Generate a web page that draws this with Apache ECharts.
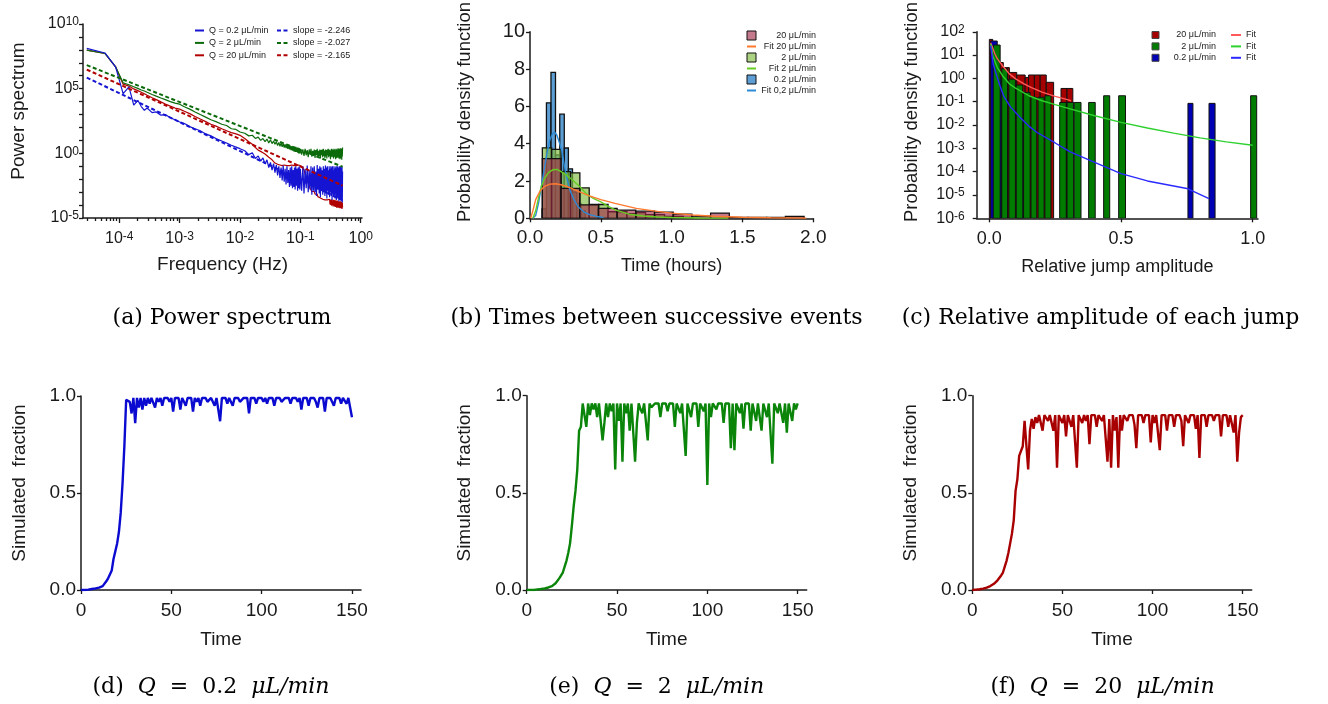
<!DOCTYPE html>
<html><head><meta charset="utf-8">
<script src="https://cdn.jsdelivr.net/npm/echarts@6/dist/echarts.min.js"></script>
<style>html,body{margin:0;padding:0;background:#fff}#c{width:1328px;height:704px}</style>
</head><body><div id="c"></div>
<script>
// ---------- (a) Power spectrum ----------
const psdFreq = [2.9e-5,5.8e-5,8.7e-5,1.16e-4,1.45e-4,1.74e-4,2.03e-4,2.32e-4,2.61e-4,2.9e-4,3.5e-4,4.1e-4,4.9e-4,5.8e-4,7e-4,8.4e-4,1e-3,1.2e-3,1.5e-3,1.8e-3,2.2e-3,2.7e-3,3.3e-3,4e-3,5e-3,6e-3,7.2e-3,8.6e-3,1e-2,
 0.012,0.014,0.016,0.018,
 0.020,0.022,0.024,0.026,0.028,0.030,0.032,0.034,0.036,0.038,0.040,0.042,0.044,0.046,0.048,0.050,0.052,0.054,0.056,0.058,0.060,0.062,0.064,0.066,0.068,0.070,0.072,0.074,0.076,0.078,0.080,0.082,0.084,0.086,0.088,0.090,0.092,0.094,0.096,0.098,0.100,
 0.105,0.110,0.115,0.120,0.125,0.130,0.135,0.140,0.145,0.150,0.155,0.160,0.165,0.170,0.175,0.180,0.185,0.190,0.195,0.200,
 0.205,0.210,0.215,0.220,0.225,0.230,0.235,0.240,0.245,0.250,0.255,0.260,0.265,0.270,0.275,0.280,0.285,0.290,0.295,0.300,
 0.305,0.310,0.315,0.320,0.325,0.330,0.335,0.340,0.345,0.350,0.355,0.360,0.365,0.370,0.375,0.380,0.385,0.390,0.395,0.400,
 0.405,0.410,0.415,0.420,0.425,0.430,0.435,0.440,0.445,0.450,0.455,0.460,0.465,0.470,0.475,0.480,0.485,0.490,0.495,0.500];
// log10 of the power
const psdLog10Blue = [8.11,7.76,6.69,4.62,5.14,3.72,4.1,3.62,3.33,3.5,3.15,3.2,2.95,3.0,2.75,2.6,2.42,2.3,2.05,1.9,1.75,1.5,1.35,1.15,0.95,0.8,0.62,0.48,0.36,
 0.2,-0.1,0.05,-0.4,
 -0.2,-0.6,-0.35,-0.8,-0.5,-1.1,-0.7,-1.3,-0.8,-1.5,
 -0.9,-1.7,-1.0,-1.9,-1.1,-2.1,-0.95,-2.2,-1.2,-2.4,
 -1.0,-2.3,-1.3,-2.6,-1.1,-2.5,-1.0,-2.7,-1.3,-2.6,
 -1.1,-2.8,-1.0,-2.5,-1.2,-2.9,-1.1,-2.7,-1.0,-2.8,
 -1.2,
 -2.9,-1.0,-3.1,-1.2,-2.7,-0.95,-3.0,-1.3,-2.8,-1.0,
 -3.2,-1.1,-2.9,-1.0,-3.0,-1.4,-3.3,-0.9,-2.8,-1.2,
 -3.1,-1.0,-3.4,-1.1,-2.9,-1.3,-3.2,-1.0,-3.0,-1.2,
 -3.3,-0.95,-3.1,-1.1,-3.5,-1.0,-2.9,-1.3,-3.2,-1.0,
 -3.4,-1.2,-3.0,-1.0,-3.3,-1.1,-3.6,-1.0,-3.1,-1.3,
 -3.4,-1.0,-3.2,-1.2,-3.5,-1.1,-3.0,-1.0,-3.6,-1.2,
 -3.3,-1.0,-3.5,-1.1,-3.2,-1.3,-3.7,-1.0,-3.4,-1.1,
 -3.6,-1.0,-3.3,-1.2,-3.7,-1.1,-3.5,-1.0,-3.8,-1.4];
const psdLog10Green = [7.98,7.72,6.69,5.45,5.3,5.15,5.02,4.9,4.82,4.72,4.55,4.42,4.28,4.15,4.0,3.88,3.8,3.6,3.4,3.2,3.0,2.8,2.6,2.45,2.25,2.15,1.9,1.85,1.65,
 1.55,1.35,1.4,1.15,
 1.25,1.0,1.15,0.9,1.1,0.8,1.05,0.75,0.95,0.7,
 0.9,0.6,0.85,0.55,0.8,0.5,0.75,0.45,0.7,0.4,
 0.65,0.35,0.65,0.3,0.6,0.25,0.55,0.2,0.55,0.15,
 0.5,0.1,0.5,0.1,0.45,0.05,0.45,0.0,0.4,0.0,
 0.35,
 -0.1,0.3,-0.2,0.35,-0.15,0.25,-0.3,0.3,-0.1,0.35,
 -0.25,0.2,-0.2,0.3,-0.35,0.25,-0.15,0.35,-0.3,0.2,
 -0.2,0.3,-0.4,0.25,-0.15,0.3,-0.3,0.35,-0.2,0.2,
 -0.35,0.3,-0.25,0.25,-0.4,0.3,-0.15,0.35,-0.3,0.25,
 -0.2,0.3,-0.45,0.2,-0.25,0.35,-0.3,0.3,-0.2,0.25,
 -0.4,0.35,-0.25,0.3,-0.3,0.2,-0.45,0.35,-0.2,0.3,
 -0.35,0.25,-0.3,0.4,-0.25,0.3,-0.4,0.35,-0.2,0.3,
 -0.45,0.4,-0.3,0.35,-0.35,0.3,-0.5,0.4,-0.25,0.45];
const psdLog10Red = [7.98,7.72,6.69,5.35,5.2,4.98,4.85,4.72,4.6,4.49,4.3,4.15,3.98,3.82,3.65,3.5,3.42,3.25,3.05,2.85,2.65,2.45,2.25,2.1,1.9,1.75,1.6,1.5,1.39,
 1.15,0.9,0.7,0.45,
 0.25,0.15,0.05,-0.05,-0.15,-0.3,-0.4,-0.5,-0.65,-0.75,
 -0.8,-0.85,-0.8,-0.9,-0.85,-0.95,-0.85,-0.9,-0.95,-0.85,
 -0.95,-0.9,-0.85,-0.95,-0.9,-1.0,-0.9,-0.95,-0.85,-0.95,
 -0.9,-1.0,-0.9,-0.95,-0.9,-1.0,-0.95,-0.9,-1.0,-0.95,
 -1.0,
 -1.0,-1.1,-1.3,-1.6,-1.9,-2.1,-2.3,-2.5,-2.7,-2.8,
 -2.95,-2.85,-3.05,-2.95,-3.15,-3.05,-3.25,-3.15,-3.35,-3.25,
 -3.4,-3.3,-3.45,-3.35,-3.5,-3.4,-3.55,-3.45,-3.6,-3.5,
 -3.6,-3.5,-3.65,-3.55,-3.7,-3.6,-3.7,-3.6,-3.75,-3.65,
 -3.55,-3.95,-3.6,-4.0,-3.55,-4.05,-3.6,-4.0,-3.65,-4.1,
 -3.6,-4.05,-3.65,-4.1,-3.6,-4.15,-3.7,-4.1,-3.65,-4.2,
 -3.7,-4.15,-3.65,-4.2,-3.7,-4.1,-3.75,-4.2,-3.7,-4.25,
 -3.75,-4.2,-3.7,-4.25,-3.8,-4.2,-3.75,-4.3,-3.8,-4.2];
const slopeFreq = [2.9e-5, 0.5];
const slopeBlue = [7.2e5, 2.4e-4];
const slopeGreen = [6.6e6, 0.092];
const slopeRed = [3.0e6, 3.2e-3];

// ---------- (b) Times between successive events: [binStart, binEnd, density] ----------
const hist20 = [[0.087,0.219,3.2],[0.219,0.351,1.6],[0.351,0.483,0.72],[0.483,0.615,0.53],[0.615,0.747,0.44],[0.747,0.879,0.38],[0.879,1.011,0.33],[1.011,1.143,0.22],[1.143,1.275,0.12],[1.275,1.407,0.28],[1.407,1.539,0.05],[1.539,1.671,0.05],[1.671,1.803,0.05],[1.803,1.935,0.1]];
const hist2 = [[0.087,0.153,3.78],[0.153,0.219,3.70],[0.219,0.286,2.5],[0.286,0.352,2.44],[0.352,0.418,1.63],[0.418,0.485,0.75],[0.485,0.551,0.74],[0.551,0.617,0.35],[0.617,0.684,0.35],[0.684,0.750,0.25],[0.750,0.816,0.3],[0.816,0.883,0.2],[0.883,0.950,0.2],[0.950,1.016,0.1],[1.016,1.083,0.1],[1.083,1.150,0.05]];
const hist02 = [[0.085,0.116,0.5],[0.116,0.148,6.19],[0.148,0.180,7.82],[0.180,0.210,3.4],[0.210,0.242,5.58],[0.242,0.271,3.77],[0.271,0.300,2.65],[0.300,0.330,1.4],[0.330,0.360,0.8],[0.360,0.390,0.4]];
const fit20T = [0.005,0.02,0.04,0.07,0.1,0.14,0.18,0.22,0.28,0.35,0.42,0.5,0.6,0.75,0.9,1.0,1.15,1.3,1.5,1.7,1.95];
const fit20V = [0,0.4,1.0,1.45,1.7,1.83,1.85,1.8,1.65,1.42,1.2,1.0,0.8,0.53,0.37,0.28,0.18,0.11,0.06,0.03,0.01];
const fit2T = [0.02,0.04,0.06,0.08,0.1,0.13,0.16,0.19,0.22,0.26,0.3,0.35,0.4,0.45,0.5,0.55,0.6,0.7,0.8,0.9,1.0,1.2,1.4];
const fit2V = [0,0.4,1.1,1.7,2.1,2.45,2.6,2.62,2.5,2.3,2.05,1.7,1.3,1.05,0.88,0.65,0.45,0.22,0.12,0.07,0.04,0.02,0.01];
const fit02T = [0.02,0.04,0.06,0.08,0.1,0.12,0.14,0.16,0.175,0.19,0.21,0.225,0.25,0.28,0.31,0.34,0.38,0.42,0.47,0.52];
const fit02V = [0,0.15,0.8,1.7,2.6,3.5,4.2,4.55,4.6,4.45,4.0,3.6,2.5,1.55,1.0,0.62,0.35,0.2,0.1,0.05];

// ---------- (c) Relative amplitude of each jump: [binStart, binEnd, density] ----------
const jump20 = [[0.0,0.013,47],[0.013,0.038,12],[0.038,0.053,4.8],[0.053,0.076,2.9],[0.076,0.104,1.8],[0.104,0.136,1.4],[0.136,0.149,1.1],[0.149,0.171,1.4],[0.171,0.193,1.4],[0.193,0.216,1.4],[0.216,0.244,0.68],[0.272,0.295,0.37],[0.295,0.317,0.37]];
const jump2 = [[0.015,0.041,27],[0.047,0.069,2.6],[0.074,0.099,0.93],[0.102,0.127,0.52],[0.130,0.155,0.25],[0.158,0.180,0.155],[0.185,0.208,0.155],[0.211,0.234,0.18],[0.267,0.292,0.093],[0.295,0.320,0.093],[0.322,0.348,0.093],[0.377,0.402,0.093],[0.434,0.457,0.18],[0.491,0.517,0.18],[0.992,1.015,0.18]];
const jump02 = [[0.005,0.030,40],[0.030,0.047,1.0],[0.105,0.130,0.1],[0.754,0.773,0.085],[0.834,0.857,0.085]];
const jfit20X = [0.005,0.02,0.03,0.05,0.075,0.1,0.13,0.16,0.2,0.25,0.3,0.31];
const jfit20Y = [34,12,7,3.5,1.6,0.95,0.6,0.4,0.26,0.17,0.12,0.11];
const jfit2X = [0.005,0.015,0.03,0.05,0.075,0.1,0.15,0.2,0.25,0.3,0.4,0.5,0.6,0.7,0.8,0.9,1.0];
const jfit2Y = [30,8,3,1.3,0.6,0.38,0.18,0.11,0.075,0.052,0.025,0.013,0.0075,0.0045,0.0028,0.0019,0.00135];
const jfit02X = [0.005,0.015,0.028,0.04,0.054,0.08,0.117,0.15,0.18,0.25,0.307,0.4,0.5,0.6,0.75,0.834];
const jfit02Y = [25,4,1.3,0.5,0.18,0.06,0.021,0.009,0.0049,0.0017,0.0007,0.00025,8.3e-5,4e-5,1.9e-5,7e-6];

// ---------- (d)(e)(f) Simulated fraction ----------
const timeSteps = [0,1,2,3,4,5,6,7,8,9,10,11,12,13,14,15,16,17,18,19,20,21,22,23,24,25,26,27,28,29,30,31,32,33,34,35,36,37,38,39,40,41,42,43,44,45,46,47,48,49,50,51,52,53,54,55,56,57,58,59,60,61,62,63,64,65,66,67,68,69,70,71,72,73,74,75,76,77,78,79,80,81,82,83,84,85,86,87,88,89,90,91,92,93,94,95,96,97,98,99,100,101,102,103,104,105,106,107,108,109,110,111,112,113,114,115,116,117,118,119,120,121,122,123,124,125,126,127,128,129,130,131,132,133,134,135,136,137,138,139,140,141,142,143,144,145,146,147,148,149,150];
const fracQ02 = [0,0,0,0,0.002,0.003,0.005,0.006,0.008,0.01,
 0.012,0.015,0.02,0.03,0.045,0.06,0.08,0.1,0.16,0.2,
 0.24,0.3,0.4,0.55,0.74,0.98,
 0.99,0.97,0.91,0.99,0.86,0.99,0.94,0.99,0.93,0.99,
 0.95,0.99,0.96,0.99,0.98,0.94,0.99,0.97,0.99,0.95,
 0.99,0.98,0.99,0.97,0.99,0.92,0.99,0.98,0.99,0.93,
 0.99,0.97,0.95,0.99,0.98,0.99,0.92,0.99,0.97,0.99,
 0.95,0.99,0.98,0.99,0.97,0.96,0.99,0.98,0.95,0.99,
 0.98,0.87,0.99,0.98,0.99,0.96,0.99,0.98,0.95,0.99,
 0.98,0.99,0.97,0.96,0.99,0.98,0.99,0.91,0.99,0.98,
 0.99,0.96,0.99,0.98,0.99,0.97,0.99,0.96,0.99,0.98,
 0.99,0.95,0.99,0.98,0.99,0.97,0.96,0.99,0.98,0.99,
 0.96,0.99,0.98,0.99,0.97,0.99,0.93,0.99,0.98,0.99,
 0.95,0.99,0.98,0.99,0.97,0.94,0.99,0.98,0.99,0.92,
 0.99,0.98,0.99,0.97,0.95,0.99,0.98,0.99,0.96,0.99,
 0.98,0.96,0.99,0.99,0.89];
const fracQ2 = [0,0,0,0,0,0.002,0.003,0.004,0.005,0.006,
 0.008,0.01,0.013,0.016,0.02,0.025,0.035,0.045,0.06,0.05,
 0.09,0.12,0.15,0.19,0.24,0.33,0.43,0.51,0.62,0.82,0.84,0.96,
 0.96,0.84,0.96,0.90,0.96,0.93,0.96,0.89,0.96,0.95,
 0.77,0.86,0.96,0.89,0.96,0.92,0.96,0.62,0.96,0.87,
 0.96,0.66,0.96,0.91,0.96,0.82,0.96,0.95,0.66,0.86,
 0.96,0.93,0.91,0.96,0.95,0.77,0.96,0.94,0.93,0.96,
 0.95,0.96,0.89,0.96,0.95,0.96,0.92,0.96,0.95,0.96,
 0.84,0.96,0.95,0.91,0.96,0.95,0.69,0.96,0.95,0.89,
 0.96,0.95,0.96,0.84,0.96,0.95,0.92,0.96,0.54,0.96,
 0.89,0.96,0.95,0.93,0.96,0.95,0.96,0.86,0.96,0.95,
 0.96,0.73,0.96,0.72,0.96,0.95,0.91,0.96,0.83,0.96,
 0.95,0.96,0.82,0.96,0.95,0.87,0.96,0.95,0.82,0.96,
 0.95,0.89,0.96,0.95,0.65,0.96,0.95,0.91,0.96,0.95,
 0.86,0.96,0.81,0.96,0.95,0.87,0.96,0.93,0.96];
const fracQ20 = [0,0.001,0.002,0.003,0.004,0.005,0.007,0.009,0.012,0.015,
 0.02,0.026,0.032,0.04,0.05,0.06,0.075,0.09,0.12,0.15,
 0.19,0.24,0.29,0.36,0.51,0.57,0.69,0.69,0.74,0.87,0.87,0.62,
 0.82,0.88,0.83,0.89,0.86,0.90,0.89,0.82,0.90,0.89,
 0.87,0.90,0.89,0.82,0.90,0.63,0.90,0.89,0.86,0.90,
 0.79,0.90,0.89,0.84,0.90,0.89,0.63,0.90,0.89,0.86,
 0.90,0.87,0.90,0.75,0.90,0.89,0.90,0.84,0.90,0.89,
 0.87,0.90,0.89,0.66,0.88,0.63,0.90,0.82,0.89,0.63,
 0.90,0.82,0.90,0.89,0.87,0.90,0.89,0.90,0.85,0.73,
 0.90,0.89,0.90,0.86,0.90,0.89,0.90,0.76,0.90,0.86,
 0.90,0.89,0.72,0.90,0.89,0.90,0.82,0.90,0.89,0.90,
 0.84,0.90,0.89,0.90,0.87,0.74,0.90,0.89,0.86,0.90,
 0.89,0.90,0.83,0.90,0.68,0.90,0.89,0.90,0.84,0.90,
 0.89,0.90,0.87,0.90,0.89,0.90,0.79,0.90,0.89,0.90,
 0.84,0.90,0.89,0.81,0.90,0.66,0.81,0.89,0.90];

// ---------- tick positions ----------
const psdFreqLabels = [1e-4,1e-3,1e-2,1e-1,1];
const psdPowerLabels = [1e-5,1,1e5,1e10];
const jumpDensityLabels = [1e-6,1e-5,1e-4,1e-3,1e-2,1e-1,1,10,100];
const fracTimeLabels = [0,50,100,150];

// ================= build =================
const FONT = "'Liberation Sans', Arial, sans-serif";
const SERIF = "'DejaVu Serif', serif";
const AX = '#1a1a1a';

const powerDecades = [];
for (let e = -5; e <= 10; e++) powerDecades.push(Math.pow(10, e));
const freqMinor = [];
for (let e = -5; e <= -1; e++) for (let k = 2; k <= 9; k++) freqMinor.push(k * Math.pow(10, e));

const supFmt = v => '{b|10}{s|' + Math.round(Math.log10(v)) + '}';
const supRich = (bs, ss) => ({
  b: {fontSize: bs, fontFamily: FONT, color: AX, lineHeight: bs, verticalAlign: 'bottom'},
  s: {fontSize: ss, fontFamily: FONT, color: AX, lineHeight: ss, verticalAlign: 'top', padding: [0, 0, 8, 0]}
});
const fix1 = v => v.toFixed(1);

function axis(o) {
  return {
    gridIndex: o.g, type: o.type || 'value', min: o.min, max: o.max, interval: o.interval,
    position: o.position, logBase: 10,
    axisLine: {show: o.line !== false, onZero: false, lineStyle: {color: AX, width: 1.5}},
    axisTick: {show: true, inside: false, length: o.tickLen || 4, customValues: o.ticks, lineStyle: {color: AX, width: 1.3}},
    axisLabel: {show: o.noLabel ? false : true, customValues: o.labels, formatter: o.fmt, color: AX, fontFamily: FONT,
                fontSize: o.fs || 18, margin: o.margin == null ? 6 : o.margin, rich: o.rich,
                hideOverlap: false, showMinLabel: true, showMaxLabel: true},
    splitLine: {show: false},
    name: o.name, nameLocation: 'middle', nameGap: o.nameGap,
    nameTextStyle: {color: AX, fontFamily: FONT, fontSize: o.nameSize || 19, padding: o.namePad || 0}
  };
}

const xAxes = [
  axis({g:0, type:'log', min:2.512e-5, max:1.05, ticks:psdFreqLabels, labels:psdFreqLabels, fmt:supFmt, rich:supRich(16,12), tickLen:5, margin:13, name:'Frequency (Hz)', nameGap:37, nameSize:19}),
  axis({g:0, type:'log', min:2.512e-5, max:1.05, ticks:freqMinor, noLabel:true, tickLen:3, line:false, position:'bottom'}),
  axis({g:1, min:0, max:2, interval:0.5, fmt:fix1, fs:19, margin:10, tickLen:4, name:'Time (hours)', nameGap:39, nameSize:18}),
  axis({g:2, min:-0.048, max:1.02, ticks:[0,0.5,1], labels:[0,0.5,1], fmt:fix1, fs:18, margin:12, tickLen:4, name:'Relative jump amplitude', nameGap:40, nameSize:18}),
  axis({g:3, min:0, max:155, ticks:fracTimeLabels, labels:fracTimeLabels, fs:19, margin:11, tickLen:4, name:'Time', nameGap:40, nameSize:19}),
  axis({g:4, min:0, max:155, ticks:fracTimeLabels, labels:fracTimeLabels, fs:19, margin:11, tickLen:4, name:'Time', nameGap:40, nameSize:19}),
  axis({g:5, min:0, max:155, ticks:fracTimeLabels, labels:fracTimeLabels, fs:19, margin:11, tickLen:4, name:'Time', nameGap:40, nameSize:19})
];
const yAxes = [
  axis({g:0, type:'log', min:1e-5, max:1e10, ticks:powerDecades, labels:psdPowerLabels, fmt:supFmt, rich:supRich(16,12), tickLen:4, margin:4, name:'Power spectrum', nameGap:55, nameSize:19, namePad:[0,0,0,20]}),
  axis({g:1, min:0, max:10, interval:2, fs:20, margin:5, tickLen:4, name:'Probability density function', nameGap:56, nameSize:18.5, namePad:[0,0,0,26]}),
  axis({g:2, type:'log', min:1e-6, max:100, ticks:jumpDensityLabels, labels:jumpDensityLabels, fmt:supFmt, rich:supRich(16,12), tickLen:4, margin:12, name:'Probability density function', nameGap:55, nameSize:18.5, namePad:[0,0,0,26]}),
  axis({g:3, min:0, max:1, interval:0.5, fmt:fix1, fs:19, margin:5, tickLen:4, name:'Simulated  fraction', nameGap:52, nameSize:19, namePad:[0,0,0,20]}),
  axis({g:4, min:0, max:1, interval:0.5, fmt:fix1, fs:19, margin:5, tickLen:4, name:'Simulated  fraction', nameGap:52, nameSize:19, namePad:[0,0,0,20]}),
  axis({g:5, min:0, max:1, interval:0.5, fmt:fix1, fs:19, margin:5, tickLen:4, name:'Simulated  fraction', nameGap:52, nameSize:19, namePad:[0,0,0,20]})
];

const C = {
  psdBlue: '#1414d2', psdGreen: '#0b6b0b', psdRed: '#b00000',
  hB: 'rgba(48,132,200,0.78)', hG: 'rgba(132,190,70,0.68)', hR: 'rgba(160,40,70,0.62)',
  fB: '#2b8bd6', fG: '#66cc22', fR: '#ff7a2e',
  jR: '#a50000', jG: '#007c00', jB: '#0000b4',
  jfR: '#ff5a5a', jfG: '#2ed12e', jfB: '#2a2aff',
  dB: '#0a0ad0', dG: '#0a850a', dR: '#a80000'
};

function line(name, xi, yi, data, color, width, dashed, z) {
  return {name, type:'line', xAxisIndex:xi, yAxisIndex:yi, data, showSymbol:false, symbol:'none',
    clip:true, z: z || 2, itemStyle:{color},
    lineStyle:{color, width, type: dashed ? [4,2.5] : 'solid'}};
}
function hist(name, xi, yi, bins, fill, base, bw, z) {
  return {name, type:'custom', xAxisIndex:xi, yAxisIndex:yi, data:bins, clip:true, z: z || 2,
    encode:{x:[0,1], y:2}, itemStyle:{color: fill, borderColor:'#111', borderWidth:bw},
    renderItem: (params, api) => {
      const a = api.coord([api.value(0), api.value(2)]);
      const b = api.coord([api.value(1), base]);
      return {type:'rect', shape:{x:a[0], y:a[1], width:b[0]-a[0], height:b[1]-a[1]},
              style:{fill, stroke:'#111', lineWidth:bw}};
    }};
}
const pairs = (xs, ys) => xs.map((x, i) => [x, ys[i]]);
const pow10 = (xs, ls) => xs.map((x, i) => [x, Math.pow(10, ls[i])]);

const series = [
  // (a)
  line('Q = 20 μL/min', 0, 0, pow10(psdFreq, psdLog10Red), C.psdRed, 1.2, false, 2),
  line('Q = 2 μL/min', 0, 0, pow10(psdFreq, psdLog10Green), C.psdGreen, 1.2, false, 2),
  line('Q = 0.2 μL/min', 0, 0, pow10(psdFreq, psdLog10Blue), C.psdBlue, 1.2, false, 2),
  line('slope = -2.246', 0, 0, pairs(slopeFreq, slopeBlue), C.psdBlue, 2, true, 3),
  line('slope = -2.027', 0, 0, pairs(slopeFreq, slopeGreen), C.psdGreen, 2, true, 3),
  line('slope = -2.165', 0, 0, pairs(slopeFreq, slopeRed), C.psdRed, 2, true, 3),
  // (b)
  hist('0.2 μL/min', 2, 1, hist02, C.hB, 0, 1.3, 2),
  hist('2 μL/min', 2, 1, hist2, C.hG, 0, 1.3, 3),
  hist('20 μL/min', 2, 1, hist20, C.hR, 0, 1.3, 4),
  line('Fit 0,2 μL/min', 2, 1, pairs(fit02T, fit02V), C.fB, 1.4, false, 5),
  line('Fit 2 μL/min', 2, 1, pairs(fit2T, fit2V), C.fG, 1.4, false, 5),
  line('Fit 20 μL/min', 2, 1, pairs(fit20T, fit20V), C.fR, 1.4, false, 5),
  // (c)
  hist('c20', 3, 2, jump20, C.jR, 1e-6, 1, 2),
  hist('c02', 3, 2, jump02, C.jB, 1e-6, 1, 3),
  hist('c2', 3, 2, jump2, C.jG, 1e-6, 1, 4),
  line('cf20', 3, 2, pairs(jfit20X, jfit20Y), C.jfR, 1.4, false, 5),
  line('cf2', 3, 2, pairs(jfit2X, jfit2Y), C.jfG, 1.4, false, 5),
  line('cf02', 3, 2, pairs(jfit02X, jfit02Y), C.jfB, 1.4, false, 5),
  // (d)(e)(f)
  line('d', 4, 3, pairs(timeSteps, fracQ02), C.dB, 2.4, false, 2),
  line('e', 5, 4, pairs(timeSteps, fracQ2), C.dG, 2.4, false, 2),
  line('f', 6, 5, pairs(timeSteps, fracQ20), C.dR, 2.4, false, 2)
];

const lt = {fontFamily: FONT, fontSize: 9, color: '#222'};
const noMark = {opacity: 0};
const cNames = {c20:'20 μL/min', c2:'2 μL/min', c02:'0.2 μL/min'};
const legends = [
  {data:['Q = 0.2 μL/min','Q = 2 μL/min','Q = 20 μL/min'], orient:'vertical', left:194, top:26, padding:0,
   itemWidth:9, itemHeight:8, itemGap:3.4, textStyle:lt, selectedMode:false, itemStyle:noMark},
  {data:['slope = -2.246','slope = -2.027','slope = -2.165'], orient:'vertical', left:276, top:26, padding:0,
   itemWidth:11, itemHeight:8, itemGap:3.4, textStyle:lt, selectedMode:false, itemStyle:noMark},
  {data:[
     {name:'20 μL/min', icon:'rect', itemStyle:{color:C.hR, borderColor:'#111', borderWidth:1, opacity:1}},
     {name:'Fit 20 μL/min', itemStyle:noMark},
     {name:'2 μL/min', icon:'rect', itemStyle:{color:C.hG, borderColor:'#111', borderWidth:1, opacity:1}},
     {name:'Fit 2 μL/min', itemStyle:noMark},
     {name:'0.2 μL/min', icon:'rect', itemStyle:{color:C.hB, borderColor:'#111', borderWidth:1, opacity:1}},
     {name:'Fit 0,2 μL/min', itemStyle:noMark}],
   orient:'vertical', left:746, top:30.5, padding:0, itemWidth:9, itemHeight:9, itemGap:1.5, selectedMode:false,
   formatter: n => '{r|' + n + '}', textStyle:{rich:{r:{width:55, align:'right', fontFamily:FONT, fontSize:9, color:'#222'}}}},
  {data:[
     {name:'c20', icon:'rect', itemStyle:{color:C.jR, borderColor:'#444', borderWidth:1}},
     {name:'c2', icon:'rect', itemStyle:{color:C.jG, borderColor:'#444', borderWidth:1}},
     {name:'c02', icon:'rect', itemStyle:{color:C.jB, borderColor:'#444', borderWidth:1}}],
   orient:'vertical', left:1151.5, top:30.5, padding:0, itemWidth:7, itemHeight:7, itemGap:2.4, selectedMode:false,
   formatter: n => '{r|' + cNames[n] + '}', textStyle:{rich:{r:{width:52, align:'right', fontFamily:FONT, fontSize:9, color:'#222'}}}},
  {data:['cf20','cf2','cf02'], orient:'vertical', left:1230, top:30.5, padding:0, itemWidth:10, itemHeight:7, itemGap:2.4,
   selectedMode:false, formatter: () => 'Fit', textStyle:lt, itemStyle:noMark}
];

const capStyle = (text, x, y) => ({type:'text', x, y, silent:true, style:{text, fill:'#000', fontFamily:SERIF, fontSize:22,
  align:'center', verticalAlign:'middle', rich:{i:{fontStyle:'italic', fontFamily:SERIF, fontSize:22, fill:'#000'}}}});

const option = {
  animation: false,
  backgroundColor: '#fff',
  grid: [
    {left:83, top:24, width:279, height:194},
    {left:530, top:30, width:283.3, height:188.3},
    {left:976.7, top:30.7, width:281.3, height:187.6},
    {left:81, top:396, width:280, height:194},
    {left:526.7, top:395.7, width:280, height:194.3},
    {left:972.3, top:395.7, width:279.4, height:194.3}
  ],
  xAxis: xAxes,
  yAxis: yAxes,
  legend: legends,
  series,
  graphic: [
    capStyle('(a) Power spectrum', 222, 318),
    capStyle('(b) Times between successive events', 656.5, 318),
    capStyle('(c) Relative amplitude of each jump', 1100.5, 318),
    capStyle('(d)  {i|Q}  =  0.2  {i|μL/min}', 211, 687),
    capStyle('(e)  {i|Q}  =  2  {i|μL/min}', 656.7, 687),
    capStyle('(f)  {i|Q}  =  20  {i|μL/min}', 1102.5, 687)
  ]
};
const chart = echarts.init(document.getElementById('c'), null, {width:1328, height:704});
chart.setOption(option);
</script></body></html>
